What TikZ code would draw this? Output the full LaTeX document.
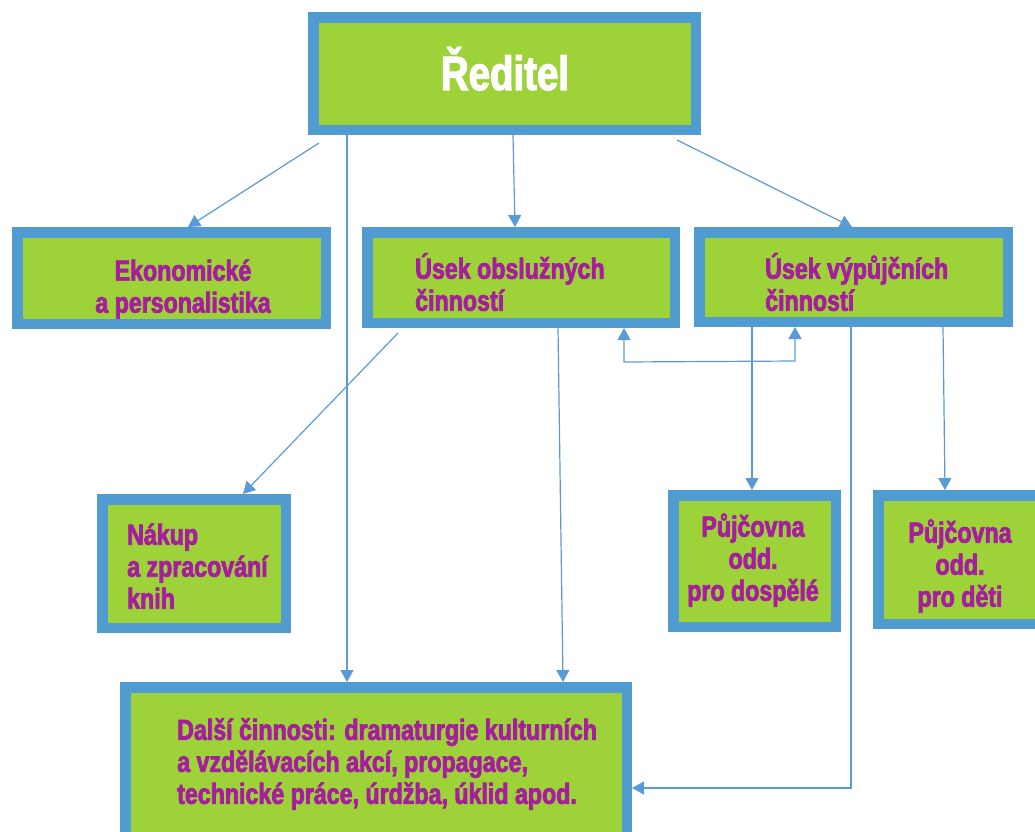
\documentclass[tikz,border=0pt]{standalone}
\usepackage{fontspec}
\newfontfamily\imp{Liberation Sans}[FakeStretch=0.8,FakeBold=2.5]
\usetikzlibrary{arrows.meta,calc}
\definecolor{boxgreen}{RGB}{157,210,57}
\definecolor{boxblue}{RGB}{80,155,207}
\definecolor{txtmag}{RGB}{166,30,158}
\definecolor{linkblue}{RGB}{91,155,213}
\begin{document}
\begin{tikzpicture}[x=1pt,y=-1pt,
  box/.style={draw=boxblue, fill=boxgreen, line width=10.5pt, inner sep=0pt},
  lbl/.style={text=txtmag, font=\imp\bfseries\fontsize{29}{32}\selectfont, inner sep=0pt},
  conn/.style={draw=linkblue, line width=1.2pt, -{Triangle[length=12pt,width=13pt]}},
  conn2/.style={draw=linkblue, line width=1.2pt, {Triangle[length=12pt,width=13pt]}-{Triangle[length=12pt,width=13pt]}},
]
\useasboundingbox (0,0) rectangle (1035,831);
% boxes
\node[box, minimum width=382.5pt, minimum height=112.5pt] (dir) at (504.5,73.5) {};
\node[box, minimum width=308.5pt, minimum height=91.5pt] (eko) at (171.5,278) {};
\node[box, minimum width=307.5pt, minimum height=90.5pt] (obs) at (521,277.5) {};
\node[box, minimum width=308.5pt, minimum height=89.5pt] (vyp) at (853.5,277) {};
\node[box, minimum width=183.5pt, minimum height=128.5pt] (nak) at (194,563.5) {};
\node[box, minimum width=162.5pt, minimum height=131.5pt] (dosp) at (754.5,561) {};
\node[box, minimum width=166.5pt, minimum height=128.5pt] (deti) at (961.5,559.5) {};
\node[box, minimum width=501.5pt, minimum height=157.5pt] (dalsi) at (376,766) {};
% texts
\node[lbl, text=white, font=\imp\bfseries\fontsize{48}{50}\selectfont, anchor=base] (dirt) at (505,90) {Ředitel};
\node[lbl, align=center] (ekot) at (183,289) {Ekonomické\\a personalistika};
\node[lbl, align=left, anchor=west] (obst) at (415,282) {Úsek obslužných\\činností};
\node[lbl, align=left, anchor=west] (vypt) at (765,282) {Úsek výpůjčních\\činností};
\node[lbl, align=left, anchor=west] (nakt) at (127,566) {Nákup\\a zpracování\\knih};
\node[lbl, align=center] (dospt) at (753,560) {Půjčovna\\odd.\\pro dospělé};
\node[lbl, align=center] (detit) at (960,566) {Půjčovna\\odd.\\pro děti};
\node[lbl, align=left, anchor=west] (dalsit) at (177,764) {Další činnosti: dramaturgie kulturních\\a vzdělávacích akcí, propagace,\\technické práce, úrdžba, úklid apod.};
% connectors
\draw[conn] ($(dir.south west)+(11,8)$) -- ($(eko.north west)+(176,0)$);
\draw[conn] ($(dir.south west)+(39,0)$) -- ($(dalsi.north west)+(227,0)$);
\draw[conn] ($(dir.south west)+(205,0)$) -- ($(obs.north west)+(153,0)$);
\draw[conn] ($(dir.south east)+(-24,5)$) -- ($(vyp.north west)+(158,0)$);
\draw[conn] ($(obs.south west)+(36,5)$) -- ($(nak.north west)+(146,0)$);
\draw[conn] ($(obs.south west)+(196,0)$) -- ($(dalsi.north west)+(443,0)$);
\draw[conn] ($(vyp.south west)+(58,0)$) -- ($(dosp.north west)+(84,0)$);
\draw[conn] ($(vyp.south west)+(249,0)$) -- ($(deti.north west)+(72,0)$);
\coordinate (corner) at (851,788);
\draw[conn] (vyp.south -| corner) -- (corner) -- (dalsi.east |- corner);
\coordinate (fbL) at (624,362);
\coordinate (fbR) at (795,361);
\draw[conn2] (obs.south -| fbL) -- (fbL) -- (fbR) -- (vyp.south -| fbR);
\end{tikzpicture}
\end{document}
